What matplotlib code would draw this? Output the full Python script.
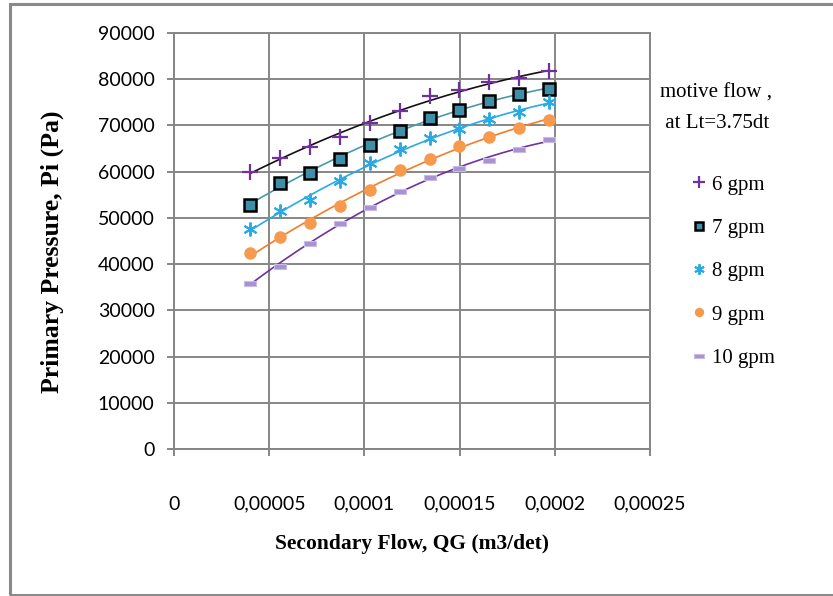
import numpy as np
import matplotlib
matplotlib.use("Agg")
import matplotlib.pyplot as plt
from matplotlib.patches import Rectangle
from matplotlib.lines import Line2D

# ---- data ----
qg = [0.0000400, 0.0000557, 0.0000714, 0.0000871, 0.0001028, 0.0001185,
      0.0001342, 0.0001499, 0.0001656, 0.0001813, 0.0001970]
p_6gpm = [60000, 62900, 65400, 67500, 70500, 73200, 76300, 77600, 79300, 80200, 81700]
p_7gpm = [52800, 57600, 59800, 62700, 65800, 68900, 71600, 73400, 75300, 76800, 77900]
p_8gpm = [47600, 51400, 53900, 58000, 61800, 64900, 67300, 69200, 71400, 73000, 75000]
p_9gpm = [42300, 45800, 49000, 52600, 56100, 60300, 62800, 65600, 67600, 69400, 71200]
p_10gpm = [36000, 39600, 44500, 48900, 52300, 55800, 58800, 60800, 62600, 64900, 67000]
labels = ["6 gpm", "7 gpm", "8 gpm", "9 gpm", "10 gpm"]
x_ticks = [0, 0.00005, 0.0001, 0.00015, 0.0002, 0.00025]
x_ticklabels = ["0", "0,00005", "0,0001", "0,00015", "0,0002", "0,00025"]
y_ticks = [0, 10000, 20000, 30000, 40000, 50000, 60000, 70000, 80000, 90000]

W, H = 833, 596
fig = plt.figure(figsize=(W / 100, H / 100), dpi=100)
fig.patch.set_facecolor("white")

# outer chart border
fig.patches.append(Rectangle((9.5 / W, 1 - 595 / H), 1.2, (595 - 3.5) / H,
                             transform=fig.transFigure, fill=False,
                             edgecolor="#8a8a8a", linewidth=2.2))

ax = fig.add_axes([174 / W, 1 - 449 / H, (650 - 174) / W, (449 - 33) / H])

grid_c = "#868686"
x = np.array(qg)

series = [
    dict(y=p_6gpm, line="#111111", marker="+", mfc="#7030a0", mec="#7030a0", ms=12, mew=1.6),
    dict(y=p_7gpm, line="#4a9aa8", marker="s", mfc="#3f8fa8", mec="#000000", ms=8.5, mew=1.8),
    dict(y=p_8gpm, line="#2aaae2", marker=(6, 2, 0), mfc="#2aaae2", mec="#2aaae2", ms=10, mew=1.4),
    dict(y=p_9gpm, line="#f07d2a", marker="o", mfc="#f79a4e", mec="#f79a4e", ms=9, mew=0),
    dict(y=p_10gpm, line="#7030a0", marker=[(-1, -0.4), (1, -0.4), (1, 0.4), (-1, 0.4), (-1, -0.4)],
         mfc="#a792d2", mec="#c8bce6", ms=9, mew=0.8),
]

handles = []
xs = np.linspace(x.min(), x.max(), 200)
for s, lab in zip(series, labels):
    yv = np.array(s["y"])
    coef = np.polyfit(x, yv, 2)
    ax.plot(xs, np.polyval(coef, xs), color=s["line"], lw=1.2, zorder=2)
    ax.plot(x, yv, linestyle="none", marker=s["marker"], ms=s["ms"],
            markerfacecolor=s["mfc"], markeredgecolor=s["mec"], mew=s["mew"], zorder=3)
    handles.append(Line2D([], [], linestyle="none", marker=s["marker"], ms=s["ms"] * 0.75,
                          markerfacecolor=s["mfc"], markeredgecolor=s["mec"], mew=s["mew"]))

ax.set_xlim(0, 0.00025)
ax.set_ylim(0, 90000)
ax.set_xticks(x_ticks)
ax.set_xticklabels(x_ticklabels)
ax.set_yticks(y_ticks)
ax.set_yticklabels([str(v) for v in y_ticks])
ax.grid(True, color=grid_c, lw=1.4)
ax.set_axisbelow(True)
for sp in ax.spines.values():
    sp.set_color(grid_c)
    sp.set_linewidth(1.4)
ax.tick_params(axis="both", color=grid_c, length=5, width=1.4, direction="out",
               labelsize=14, labelcolor="#000000")
ax.tick_params(axis="y", pad=9)
ax.tick_params(axis="x", pad=28.5)
for t in ax.get_xticklabels() + ax.get_yticklabels():
    t.set_fontfamily("Lato")

fig.text(412 / W, 1 - 544 / H, "Secondary Flow, QG (m3/det)", ha="center", va="center",
         family="Liberation Serif", fontweight="bold", fontsize=15.5)
fig.text(52 / W, 1 - 252 / H, "Primary Pressure, Pi (Pa)", ha="center", va="center",
         rotation=90, family="Liberation Serif", fontweight="bold", fontsize=18.5)

fig.text(660 / W, 1 - 93 / H, "motive flow ,", ha="left", va="center",
         family="Liberation Serif", fontsize=15)
fig.text(660 / W, 1 - 123 / H, " at Lt=3.75dt", ha="left", va="center",
         family="Liberation Serif", fontsize=15)

leg = fig.legend(handles, labels, loc="upper left", bbox_to_anchor=(693 / W, 1 - 175 / H),
                 frameon=False, prop={"family": "Liberation Serif", "size": 15},
                 handlelength=0.6, handletextpad=0.3, labelspacing=1.14, borderpad=0,
                 borderaxespad=0)

fig.savefig("out.png", dpi=100)
